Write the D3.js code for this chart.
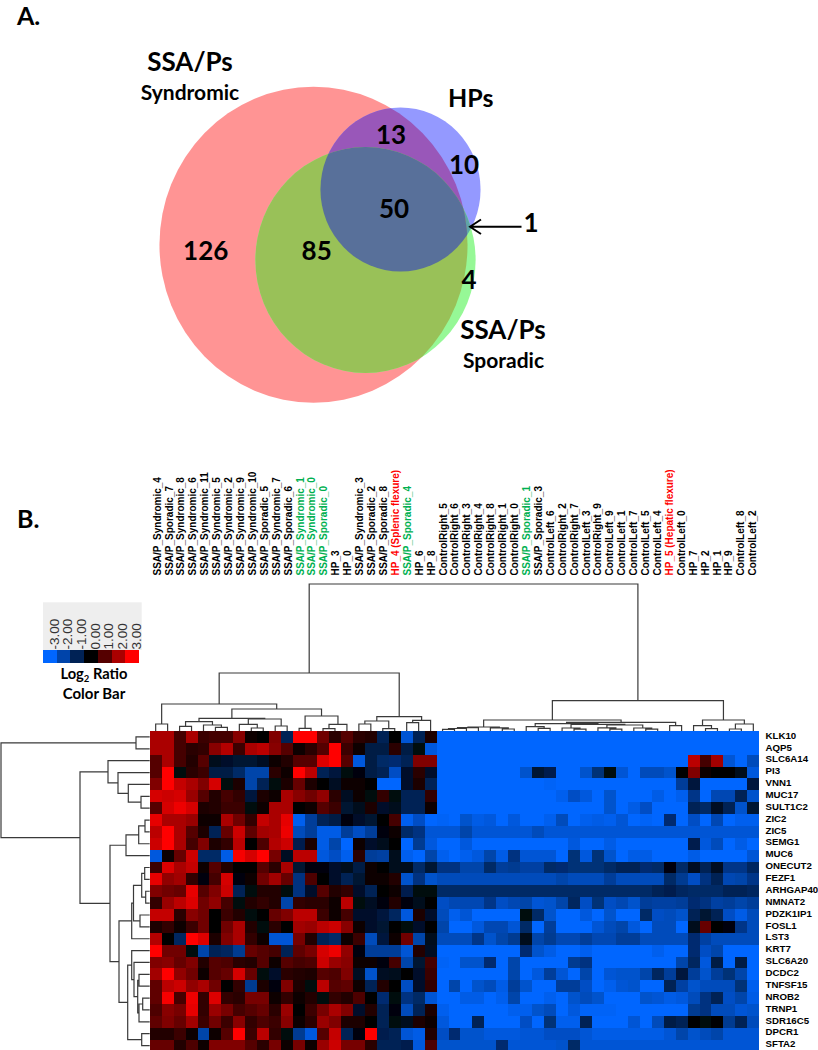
<!DOCTYPE html>
<html><head><meta charset="utf-8">
<script src="https://cdn.jsdelivr.net/npm/d3@7/dist/d3.min.js"></script>
<style>html,body{margin:0;padding:0;background:#fff}svg{display:block}</style></head>
<body><svg id="c" width="818" height="1050"></svg>
<script>
const vennSetNames=["SSA/Ps Syndromic","HPs","SSA/Ps Sporadic"];
const vennSetSizes=[274,74,140];
const vennRegionValues=[126,10,4,13,85,1,50];
const geneNames=["KLK10","AQP5","SLC6A14","PI3","VNN1","MUC17","SULT1C2","ZIC2","ZIC5","SEMG1","MUC6","ONECUT2","FEZF1","ARHGAP40","NMNAT2","PDZK1IP1","FOSL1","LST3","KRT7","SLC6A20","DCDC2","TNFSF15","NROB2","TRNP1","SDR16C5","DPCR1","SFTA2"];
const sampleNames=["SSA/P_Syndromic_4","SSA/P_Sporadic_7","SSA/P_Syndromic_8","SSA/P_Syndromic_6","SSA/P_Syndromic_11","SSA/P_Syndromic_5","SSA/P_Syndromic_2","SSA/P_Syndromic_9","SSA/P_Syndromic_10","SSA/P_Sporadic_5","SSA/P_Syndromic_7","SSA/P_Sporadic_6","SSA/P_Syndromic_1","SSA/P_Syndromic_0","SSA/P_Sporadic_0","HP_3","HP_0","SSA/P_Syndromic_3","SSA/P_Sporadic_2","SSA/P_Sporadic_8","HP_4 (Splenic flexure)","SSA/P_Sporadic_4","HP_6","HP_8","ControlRight_5","ControlRight_6","ControlRight_3","ControlRight_4","ControlRight_8","ControlRight_1","ControlRight_0","SSA/P_Sporadic_1","SSA/P_Sporadic_3","ControlLeft_6","ControlRight_2","ControlRight_7","ControlLeft_3","ControlRight_9","ControlLeft_9","ControlLeft_1","ControlLeft_7","ControlLeft_5","ControlLeft_4","HP_5 (Hepatic flexure)","ControlLeft_0","HP_7","HP_2","HP_1","HP_9","ControlLeft_8","ControlLeft_2"];
const greenSamples=["SSA/P_Syndromic_1","SSA/P_Syndromic_0","SSA/P_Sporadic_0","SSA/P_Sporadic_4","SSA/P_Sporadic_1"];
const redSamples=["HP_4 (Splenic flexure)","HP_5 (Hepatic flexure)"];
const legendTicks=[-3,-2,-1,0,1,2,3];
const heat=[
[2,2,.8,2,.7,.8,.8,1.6,.2,0,1.5,-1,3,3,1.3,.5,1,.5,.4,-1,0,-2.5,-1,.3,-3,-3,-3,-3,-3,-3,-3,-3,-3,-3,-3,-3,-3,-3,-3,-3,-3,-3,-3,-3,-3,-3,-3,-3,-3,-3,-3],
[2,2,.8,.5,.6,1.6,2.1,.7,2,2.2,1.6,1,.1,.5,1,3,.7,.2,-.8,-.8,.5,-.8,-.2,-2.6,-3,-3,-3,-3,-3,-3,-3,-3,-3,-3,-3,-3,-3,-3,-3,-3,-3,-3,-3,-3,-3,-3,-3,-3,-3,-3,-3],
[1,2,.8,.4,1,-.3,-.5,-.6,-.6,-.4,.1,.4,1,1,2.6,3,1,-2.6,-.8,-1.2,-1.3,-1,1.5,1.5,-3,-3,-3,-3,-3,-3,-3,-3,-3,-3,-3,-3,-3,-3,-3,-3,-3,-3,-3,-3,-3,2.2,.8,1.9,-2.5,-3,-2.2],
[1,3,-.2,.5,.7,-.8,-.8,-1.2,-2,-2,.5,.1,3,2.2,-1,-.7,-.2,-.1,-.8,-1,-2.3,-.5,.5,-.5,-3,-3,-3,-3,-3,-3,-3,-2.4,-.6,-.9,-3,-3,-2.4,-1.4,-.2,-2.5,-3,-2.2,-2.2,-2.4,0,1.5,.2,0,0,-.3,-2.6],
[1.5,3,2.3,2,1.5,2.5,-.2,.3,-2,-1,-.2,.3,1.2,.3,0,-.4,.2,.2,0,-3,-3,-.5,.3,-1,-3,-3,-3,-3,-3,-3,-3,-3,-3,-2.9,-3,-3,-3,-3,-3,-3,-3,-3,-3,-3,-1.8,-.7,-3,-3,-3,-3,-.7],
[2.5,2.4,2.5,1.8,1,.4,.8,.6,-.7,.3,.2,2,1.6,1.3,1.7,.5,-.4,.1,-.2,.6,-.2,-1,-1,.6,-3,-3,-3,-3,-3,-3,-3,-3,-3,-3,-2.8,-2.3,-2.6,-3,-2.4,-3,-3,-3,-2.7,-3,-2.8,-1.6,-3,-2.1,-2.1,-1,-2.4],
[1,2.5,2.8,2.5,.3,.4,.7,.7,-.2,.2,2,2,.05,.1,1,.7,-.6,-.3,.3,-.5,-.3,-1,-1,.1,-3,-3,-3,-3,-3,-3,-3,-3,-3,-3,-3,-3,-3,-3,-2.4,-3,-2.7,-2.3,-3,-3,-3,-1,-1.2,-.4,-1,-2.4,-.6],
[2.7,2,2,1.8,.2,.1,2,1.3,.6,2.3,2,2.7,-2.8,-1.8,-1,-.8,-.1,-.5,-.6,0,.8,-2.8,-2.3,-3,-2.9,-3,-2.4,-2.7,-2.6,-3,-2.6,-3,-3,-2.8,-2.2,-3,-2.8,-2.7,-2.8,-2.5,-3,-2.9,-3,-1.3,-3,-2.3,-3,-2.1,-3,-2.8,-2.8],
[2.2,3,2,1,.3,-1,1.2,2.4,1.1,1.9,2,2.8,-2.2,-1.8,-2.7,-2.7,-1.8,-2.3,-1.8,-.1,.1,-1.2,-1.5,-2.5,-2.5,-2.5,-2,-2.5,-2.5,-2.5,-2.5,-2.5,-2.2,-2.5,-2.5,-2.5,-2.5,-2.5,-2.5,-2.5,-2.5,-2.5,-2.5,-2.5,-2.5,-2.5,-2.5,-2.5,-2.5,-2.5,-2.5],
[2.4,3,2,.8,1.5,.3,.6,2.2,0,.9,2.1,2.4,-.9,.3,-2.7,-2,-3,.2,-.5,-.3,0,-3,-1.7,-2.6,-3,-3,-2.6,-3,-3,-3,-3,-3,-3,-3,-3,-2.6,-3,-3,-2.7,-3,-3,-3,-3,-3,-3,-.9,-2.6,-2.2,-3,-2.7,-3],
[-2.6,.1,1.2,2.4,-1.2,-1.2,-2.7,2.9,2.5,3,1.4,-.4,2.2,2.2,-2.6,-2.3,-2.8,.5,-1.8,-1.9,-.3,-2.8,-3,-2,-2.8,-3,-2.8,-2.6,-2,-2.7,-1.5,-2.5,-2.5,-2.5,-3,-1.4,-2.6,-1.4,-2.4,-3,-2.7,-2.7,-3,-3,-3,-2.7,-3,-3,-3,-3,-2.5],
[.7,2.6,2,2.3,.1,1,.4,0,0,1,.5,2,-.6,-.1,-.1,-.5,-.3,-.8,.2,0,-.3,-.3,-1.2,-.6,-1.5,-1.5,-2,-2,-1.2,-1.8,-1.7,-1.9,-1.9,-1.2,-1.3,-1.4,-1.4,-1.4,-1.2,-1,-1,-1.3,-1.2,-.1,-1.2,-.4,-1,-.4,-1.6,-1.6,-1.1],
[2.7,1.7,1.9,.6,-.1,.8,2.5,-.1,.2,1.3,1.9,1.2,-1.5,.9,0,-.5,-1,-.6,.1,.2,.4,-2.4,-1.5,-2.4,-2.2,-2.2,-2.2,-2.2,-2.2,-2.2,-2.2,-2.2,-2.2,-2.2,-2,-2.2,-2.2,-2.2,-1.8,-2.2,-2.2,-2.2,-2.2,-1.2,-1.7,-2.3,-1.5,-1,-2.1,-2,-1.6],
[1.5,1.3,1.2,2.7,1,1.5,2.4,-1,-.2,.4,.4,-.2,-1.5,-.5,1,.4,.6,-.5,-1,0,.2,-.9,-.2,-.2,-1.2,-1.2,-1.2,-1.2,-1.2,-1.2,-1.2,-1.2,-1.2,-1.2,-1.2,-1.2,-1.2,-1.2,-1.2,-1.2,-1.2,-1.2,-1,-.9,-1.1,-1.2,-1.2,-1.2,-1,-1,-1.1],
[.6,1.8,2.2,2.6,1.3,1.7,.8,-.2,.4,.6,.4,-2,.6,.5,.5,.1,2.2,-.2,-.4,-.1,.4,-.1,-.3,0,-2.3,-2.1,-2.1,-2.1,-1.6,-2.3,-2.1,-2,-2.5,-2.4,-2,-1.1,-2.3,-1.4,-2.3,-2.1,-2.4,-1.8,-1.9,-1.9,-1.8,-1.3,-1.5,-1.9,-1.8,-2,-1.8],
[2.3,2.3,.5,1.6,1.3,0,.7,.4,-.2,0,1.2,1.5,2.2,2.2,.7,.2,.8,-.5,-.5,-.7,-1.1,-2.6,.3,-.5,-2.2,-2.8,-2.5,-3,-3,-3,-3,-.2,-1.2,-2.4,-3,-3,-2.6,-3,-2.4,-3,-3,-1.2,-2.3,-2.2,-2.4,-1,-.6,-1,-2.3,-2.7,-2.2],
[.3,.6,.2,.7,1.3,0,1.3,2,.4,-.2,.5,0,1.9,1.8,2.2,2.4,1.6,.1,-.5,-.6,0,-.2,-.5,0,-2,-3,-3,-2.6,-2.1,-2.1,-2.5,-1.2,-3,-1.8,-3,-3,-3,-2.5,-2.2,-2,-2.6,-3,-2.2,-2.2,-3,-.3,1.2,0,-.1,-1.6,-2.2],
[2.1,0,-1.1,3,2.6,.3,1.5,2,.6,.2,-2.5,-2.5,1.4,.4,-1,-1.2,.1,.7,-2.2,-.7,.2,1.3,-2,-.3,-2.2,-2.2,-2.2,-1.6,-2.4,-2,-1.7,-.3,-2,-1.7,-2.1,-2.1,-1.8,-2.1,-2.1,-1.8,-1.8,-2.2,-2.2,-2.2,-2.2,-1.3,-1.9,-2.2,-2.2,-2.2,-2.2],
[3,1.3,1.3,-.2,-2,-1,-1.1,-1.7,1.2,1,.8,-1,1.1,1.4,2.5,2.8,1.7,-.1,-1.8,-1.8,-1.8,-2.5,.4,-.4,-3,-3,-3,-3,-3,-3,-3,-1.3,-2.4,-2.7,-3,-3,-2.8,-3,-3,-3,-3,-3,-2.8,-3,-3,-1.3,-2.3,-2,-3,-3,-3],
[1.5,1.6,1.2,1.5,.4,1,.9,.5,.4,1,.1,1,.8,.9,2.4,1.8,1.6,.2,.2,-.1,.8,-2,-.6,.8,-2.9,-3,-2.4,-2.4,-1.3,-3,-2,-3,-3,-3,-3,-1.7,-1.5,-3,-3,-3,-3,-3,-3,-3,-2,-1.1,-2.6,-.8,-3,-.8,-3],
[1.9,3,1.7,1.3,.2,1,1.2,2.5,1.2,-.2,-.5,.5,.4,.3,1,.9,1.5,-.4,-2.4,-.4,-.3,0,-.5,.7,-3,-3,-3,-3,-3,-3,-2,-3,-2.6,-1.8,-2.5,-3,-2,-3,-2.5,-2.4,-2.4,-2,-1.1,-1.8,-.7,-1.8,-2.4,-1.8,-1.4,-2,-3],
[1.1,2.2,2.4,1.7,2,1.3,0,.6,-1.7,.3,-.1,1.5,.3,-.2,2.2,1,1.1,.1,-1,.4,0,-2.3,-.5,.6,-3,-2,-3,-2.4,-2.2,-2.7,-1.8,-2.4,-3,-3,-1.8,-1.8,-2.3,-3,-2.8,-2.5,-2.4,-3,-3,-1,-1.9,-2.4,-2.2,-2.2,-2.2,-1.4,-2.8],
[1.1,2.9,.8,2.8,.6,2.6,.6,.5,1.4,1.4,.2,.6,.2,.4,-.2,.6,.4,.9,0,-1.3,-.2,-1.5,-1.2,-2.5,-3,-3,-2.7,-2.7,-3,-2.8,-2,-3,-3,-2.8,-3,-2.4,-2.2,-2.4,-3,-3,-3,-2.4,-2.5,-2.7,-2.6,-2.2,-1.5,-1,-2.3,-2,-2.7],
[.9,1.6,1.4,2.7,.6,1.8,1.4,.8,1,1.2,.5,1.8,.05,.7,1.4,2,1.5,-.5,.4,-1,-.1,-2.2,-1,.3,-2.8,-3,-3,-3,-3,-3,-2.8,-2.8,-2.4,-2.2,-3,-2.6,-2.9,-2.9,-2.9,-3,-3,-3,-3,-3,-3,-1.7,-1.5,-2.2,-2.2,-2.5,-2.4],
[1.1,1.5,1.2,1.9,.7,1.3,.7,1.6,.6,.9,.7,1.6,.1,.5,1.8,1.5,.3,.3,0,-1,-.2,-.3,.3,.2,-2.6,-3,-3,-1,-3,-3,-3,-2.3,-3,-1.4,-2.8,-2.8,-1,-3,-3,-3,-2.5,-3,-2.2,-.8,-1,0,-.2,0,-1.7,-1,-2.2],
[.4,.4,.7,.2,-2,.2,1,3,.7,2.2,.6,-.2,-1.7,-2.6,1,2.3,-1,-.1,3,-.9,-1,-2.5,-2.7,.4,-2.3,-1.3,-2.4,-2.4,-2.6,-2.6,-2.6,-2.5,-2.5,-2.3,-2.3,-2.3,-2.5,-2.7,-2.7,-2.7,-2.7,-2.7,-2.7,-2.5,-2,-2.4,-2.2,-2,-2.5,-2.5,-2.5],
[1.2,1.2,.4,.9,.1,1.5,1.5,1.5,1,.5,1.4,.1,1.4,.2,1.8,2.4,1.4,1.4,.5,-1,-1,-.9,-2.6,.9,-2.4,-2.4,-2.4,-2.4,-2.4,-1.3,-2.5,-2.5,-2.5,-2.5,-2.4,-1.2,-2.5,-2.5,-2.5,-2.5,-2.5,-2.5,-2.5,-2.5,-2.5,-2.5,-2.5,-2.5,-2.5,-2.5,-2.5]
];
// dendrograms: [mergeHeight, left, right]; a plain number is a leaf index
const colTree=[147,
 [58,
  [27,[7,0,1],
   [22,
    [12.7,[9.3,[4.7,2,3],[6,4,[3.7,5,6]]],[12,[6.7,7,[3,8,9]],[5,10,11]]],
    [15,[2.7,12,13],[6.7,[2.3,14,15],16]]]],
  [14.3,[10,[7,17,18],[2.3,19,20]],[10.7,[8.3,21,22],23]]],
 [30.3,
  [11,
   [4,[3.3,[2.5,[1.7,24,25],26],27],[3.2,28,[2,29,30]]],
   [8.7,
    [7.3,[4.3,31,[2.7,32,33]],[6.7,[3,34,[1.8,35,36]],[6,[3.2,37,[1.8,38,39]],[3,40,[1.8,41,42]]]]],
    [5.3,43,44]]],
  [11,[5.3,45,[2.3,46,47]],[7,[2,48,49],50]]]];
const rowTree=[148.7,
 [13.7,0,1],
 [69.7,
  [41.7,2,[31.7,3,[21.4,4,[8.7,5,6]]]],
  [39.7,
   [23.7,[11,[4.7,7,8],9],10],
   [30.7,
    [18,[16.2,[8,[5,11,12],[4,13,14]],[9.7,15,16]],17],
    [22,[18,18,[15.7,19,[12,[10.7,20,21],[10.7,[7,22,23],24]]]],[8,25,26]]]]]];

const svg=d3.select("#c");
const brand="Lato, 'Open Sans', sans-serif", arial="'Liberation Sans', Arial, sans-serif";

/* ---- Venn ---- */
const rScale=d3.scaleSqrt().domain([0,vennSetSizes[0]]).range([0,158]);
const squeeze=.975;
const vennCentres=[[313.5,244.7],[400.5,189.5],[365.5,260]];
const vennGeo=vennSetSizes.map((s,i)=>({cx:vennCentres[i][0],cy:vennCentres[i][1],ry:rScale(s),rx:rScale(s)*squeeze}));
const defs=svg.append("defs");
function setEll(sel,g){return sel.attr("cx",g.cx).attr("cy",g.cy).attr("rx",g.rx).attr("ry",g.ry);}
vennGeo.forEach((g,i)=>setEll(defs.append("clipPath").attr("id","v"+i).append("ellipse"),g));
const blur=defs.append("filter").attr("id","soft").attr("x","-1%").attr("y","-1%").attr("width","102%").attr("height","102%");
blur.append("feGaussianBlur").attr("stdDeviation",.45);
const A=svg.append("g");
function disc(i,fill,parent){return setEll(parent.append("ellipse"),vennGeo[i]).attr("fill",fill);}
disc(0,"#ff9494",A);disc(1,"#9499ff",A);disc(2,"#96f896",A);
const gb=A.append("g").attr("clip-path","url(#v1)");disc(2,"#5fa5a8",gb);
const rb=A.append("g").attr("clip-path","url(#v0)");disc(1,"#9957b9",rb);
const rg=A.append("g").attr("clip-path","url(#v0)");disc(2,"#99c158",rg);
const rgb=A.append("g").attr("clip-path","url(#v0)").append("g").attr("clip-path","url(#v1)");disc(2,"#58709a",rgb);
function t(x,y,s,size,anchor){return svg.append("text").attr("x",x).attr("y",y).attr("font-family",brand).attr("font-weight",700).attr("font-size",size).attr("text-anchor",anchor||"middle").attr("fill","#000").text(s);}
t(17,25,"A.",25,"start");
t(17,528,"B.",25,"start");
t(190,70.5,"SSA/Ps",26);t(190,100,"Syndromic",21);
t(470.7,106.5,"HPs",25);
t(503,339,"SSA/Ps",26);t(503.5,368,"Sporadic",21);
const regionPos=[[205.7,260],[464,174],[469,289],[391,144],[316.7,260],[531,231.5],[394,218]];
vennRegionValues.forEach((v,i)=>t(regionPos[i][0],regionPos[i][1],String(v),26));
svg.append("path").attr("d","M521.5 226.7H471M481 219.5L470 226.7L481 234").attr("fill","none").attr("stroke","#000").attr("stroke-width",1.9);

/* ---- Heatmap ---- */
const x=d3.scaleBand().domain(d3.range(sampleNames.length)).range([149.7,759.3]);
const y=d3.scaleBand().domain(d3.range(geneNames.length)).range([731,731+11.87*geneNames.length]);
const colour=d3.scaleLinear().domain(legendTicks).range(["#0066ff","#0044aa","#002255","#000000","#550000","#aa0000","#ff0000"]).clamp(true);
svg.append("g").attr("filter","url(#soft)").selectAll("g").data(heat).join("g").attr("transform",(d,i)=>`translate(0,${y(i)})`)
 .selectAll("rect").data(d=>d).join("rect").attr("shape-rendering","crispEdges")
 .attr("x",(d,i)=>x(i)).attr("width",(d,i)=>x.bandwidth()+(i<50?1:0)).attr("height",y.bandwidth()+1).attr("fill",d=>colour(d));

/* ---- Dendrograms ---- */
const topH=d3.scaleLinear().domain([0,147]).range([731,584]);
const leftH=d3.scaleLinear().domain([0,148.7]).range([149.7,1]);
function walk(n,pos,drawFn){
  if(typeof n==="number")return{p:pos(n),h:0};
  const a=walk(n[1],pos,drawFn),b=walk(n[2],pos,drawFn);
  drawFn(a,b,n[0]);
  return{p:(a.p+b.p)/2,h:n[0]};
}
const topPath=d3.path();
walk(colTree,i=>x(i)+x.bandwidth()/2,(a,b,h)=>{
  topPath.moveTo(a.p,topH(a.h));topPath.lineTo(a.p,topH(h));topPath.lineTo(b.p,topH(h));topPath.lineTo(b.p,topH(b.h));
});
const leftPath=d3.path();
walk(rowTree,i=>y(i)+y.bandwidth()/2,(a,b,h)=>{
  leftPath.moveTo(leftH(a.h),a.p);leftPath.lineTo(leftH(h),a.p);leftPath.lineTo(leftH(h),b.p);leftPath.lineTo(leftH(b.h),b.p);
});
[topPath,leftPath].forEach(p=>svg.append("path").attr("d",p.toString()).attr("fill","none").attr("stroke","#3a3a3a").attr("stroke-width",1.2));

/* ---- Labels ---- */
const labelX=d3.scalePoint().domain(d3.range(sampleNames.length)).range([157,752.7]);
svg.append("g").selectAll("text").data(sampleNames).join("text")
 .attr("transform",(d,i)=>`translate(${labelX(i)+3.6},575.5) rotate(-90)`)
 .attr("font-family",arial).attr("font-weight",700).attr("font-size",10)
 .attr("fill",d=>greenSamples.includes(d)?"#00b050":redSamples.includes(d)?"#ff0000":"#000").text(d=>d);
svg.append("g").selectAll("text").data(geneNames).join("text")
 .attr("x",765.5).attr("y",(d,i)=>y(i)+y.bandwidth()/2+1.7)
 .attr("font-family",arial).attr("font-weight",700).attr("font-size",9.7).attr("fill","#000").text(d=>d);

/* ---- Colour bar ---- */
const lx=d3.scaleBand().domain(legendTicks).range([43,139]);
svg.append("rect").attr("x",43).attr("y",602.3).attr("width",98.7).attr("height",47.7).attr("fill","#eeeeee");
svg.append("g").selectAll("rect").data(legendTicks).join("rect").attr("shape-rendering","crispEdges").attr("x",d=>lx(d)).attr("y",650).attr("width",d=>lx.bandwidth()+(d<3?1:0)).attr("height",13.3).attr("fill",d=>colour(d));
svg.append("g").selectAll("text").data(legendTicks).join("text")
 .attr("transform",d=>`translate(${lx(d)+lx.bandwidth()/2+8.7},649.5) rotate(-90)`)
 .attr("font-family",arial).attr("font-size",13.5).attr("fill","#333").text(d=>d.toFixed(2));
const lg=svg.append("text").attr("x",94).attr("y",678.5).attr("text-anchor","middle").attr("font-family",brand).attr("font-weight",700).attr("font-size",14.7);
lg.append("tspan").text("Log");lg.append("tspan").attr("font-size",9.5).attr("dy",3).text("2");lg.append("tspan").attr("dy",-3).text(" Ratio");
t(94,698.5,"Color Bar",15);
</script></body></html>
